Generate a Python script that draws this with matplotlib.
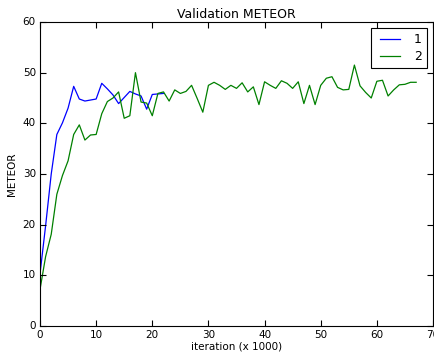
import matplotlib
matplotlib.use("Agg")
import matplotlib.pyplot as plt

plt.style.use("classic")

series1_x = list(range(0, 23))
series1_y = [10.3, 19.8, 30.0, 37.8, 40.1, 43.0, 47.3, 44.8, 44.4, 44.6, 44.8,
             47.9, 46.8, 45.6, 43.9, 45.1, 46.3, 45.8, 45.4, 42.8, 45.7, 45.8, 45.9]

series2_x = list(range(0, 68))
series2_y = [7.2, 13.7, 18.1, 26.0, 29.7, 32.6, 37.8, 39.7, 36.7, 37.7, 37.8,
             41.9, 44.3, 45.0, 46.2, 41.0, 41.5, 50.0, 44.2, 44.0, 41.5, 45.9,
             46.2, 44.4, 46.6, 45.9, 46.3, 47.5, 44.9, 42.2, 47.5, 48.1, 47.5,
             46.7, 47.5, 46.9, 48.0, 46.2, 47.2, 43.7, 48.2, 47.5, 46.9, 48.4,
             47.9, 46.9, 48.2, 43.9, 47.5, 43.7, 47.5, 48.9, 49.2, 47.1, 46.6,
             46.7, 51.5, 47.4, 46.1, 45.0, 48.3, 48.5, 45.4, 46.6, 47.6, 47.7,
             48.1, 48.1]

labels = ["1", "2"]
title = "Validation METEOR"
xlabel = "iteration (x 1000)"
ylabel = "METEOR"

fig = plt.figure(figsize=(4.35, 3.56), dpi=100, facecolor="white")
ax = fig.add_axes([40 / 435, 30 / 356, 393 / 435, 304 / 356])
ax.set_facecolor("white")

ax.plot(series1_x, series1_y, color="b", linewidth=0.9, label=labels[0])
ax.plot(series2_x, series2_y, color="g", linewidth=0.9, label=labels[1])

ax.set_xlim(0, 70)
ax.set_ylim(0, 60)
ax.set_title(title, fontsize=9, pad=3)
ax.set_xlabel(xlabel, fontsize=7.5, labelpad=1)
ax.set_ylabel(ylabel, fontsize=7.5, labelpad=4)
ax.tick_params(labelsize=7.5, direction="in", length=4, pad=3, width=0.8)
for s in ax.spines.values():
    s.set_linewidth(0.8)

leg = ax.legend(loc="upper right", fontsize=9, frameon=True, fancybox=False,
                handlelength=2.2, borderpad=0.4, labelspacing=0.3)
leg.get_frame().set_edgecolor("black")
leg.get_frame().set_linewidth(0.8)

fig.savefig("out.png", dpi=100, facecolor="white")
